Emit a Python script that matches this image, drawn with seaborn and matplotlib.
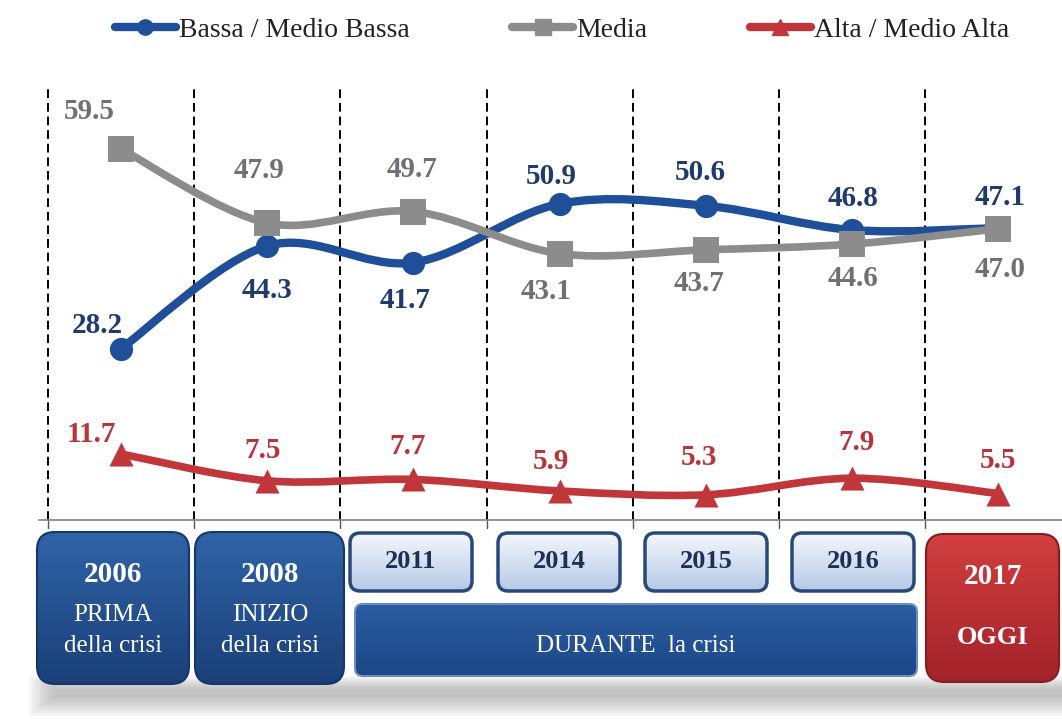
import numpy as np
import pandas as pd
import seaborn as sns
import matplotlib.pyplot as plt
from matplotlib.path import Path
from matplotlib.patches import PathPatch, FancyBboxPatch, Rectangle
from matplotlib.lines import Line2D
from matplotlib.colors import to_rgb

# data
years = ["2006", "2008", "2011", "2014", "2015", "2016", "2017"]
bassa = [28.2, 44.3, 41.7, 50.9, 50.6, 46.8, 47.1]
media = [59.5, 47.9, 49.7, 43.1, 43.7, 44.6, 47.0]
alta = [11.7, 7.5, 7.7, 5.9, 5.3, 7.9, 5.5]
series_names = ["Bassa / Medio Bassa", "Media", "Alta / Medio Alta"]
phase_titles = ["PRIMA", "INIZIO"]
phase_labels = ["della crisi", "DURANTE  la crisi", "OGGI"]

# label offsets in points (dx, dy), one per year
off_bassa = [(-17, 17), (0, -32), (-6, -27), (-6, 20), (-4, 24), (1, 23), (1, 22)]
off_media = [(-23, 27), (-6, 38), (-1, 30), (-10, -27), (-5, -24), (1, -25), (1, -29)]
off_alta = [(-21, 14), (-3, 22), (-4, 24), (-6, 21), (-5, 27), (3, 26), (0, 24)]

colors = {"Bassa / Medio Bassa": "#1f4f98", "Media": "#8c8c8c", "Alta / Medio Alta": "#c0363a"}
label_colors = {"Bassa / Medio Bassa": "#1f3a6c", "Media": "#716f74", "Alta / Medio Alta": "#b8343a"}
markers = {"Bassa / Medio Bassa": "o", "Media": "s", "Alta / Medio Alta": "^"}
msizes = {"Bassa / Medio Bassa": 280, "Media": 330, "Alta / Medio Alta": 300}
lwidths = {"Bassa / Medio Bassa": 6.0, "Media": 5.5, "Alta / Medio Alta": 5.5}

sns.set_theme(style="white")
plt.rcParams['font.family'] = ['Liberation Serif', 'DejaVu Serif']


def smooth_path(xs, ys):
    # excel-like smoothed line as cubic bezier segments
    pts = np.column_stack([xs, ys]).astype(float)
    n = len(pts)
    verts = [pts[0]]
    codes = [Path.MOVETO]
    for i in range(n - 1):
        p0 = pts[max(i - 1, 0)]
        p1 = pts[i]
        p2 = pts[i + 1]
        p3 = pts[min(i + 2, n - 1)]
        verts += [p1 + (p2 - p0) / 6, p2 - (p3 - p1) / 6, p2]
        codes += [Path.CURVE4] * 3
    return Path(verts, codes)


def gradient_box(ax, x0, y0, w, h, top, bottom, edge, lw=1.5, r=14):
    patch = FancyBboxPatch((x0, y0), w, h, boxstyle="round,pad=0,rounding_size=%d" % r,
                           facecolor="none", edgecolor=edge, linewidth=lw, zorder=3)
    ax.add_patch(patch)
    t = np.array(to_rgb(top))
    b = np.array(to_rgb(bottom))
    k = np.linspace(0, 1, 64)[:, None]
    grad = (t * (1 - k) + b * k)[:, None, :]
    im = ax.imshow(grad, extent=(x0, x0 + w, y0 + h, y0), aspect="auto", zorder=2,
                   interpolation="bilinear")
    im.set_clip_path(patch)
    return patch


fig = plt.figure(figsize=(10.62, 7.22), dpi=100)
fig.patch.set_facecolor("white")
ax = fig.add_axes([0, 0, 1, 1])
ax.set_xlim(-0.8276, 6.436)
ax.set_ylim(-30.31, 82.85)
ax.axis("off")

x = np.arange(len(years))

# dashed separators and base line
for sx in np.arange(-0.5, len(years) - 1, 1.0):
    ax.plot([sx, sx], [1.35, 69.5], color="black", lw=1.4, ls=(0, (4.5, 2.5)), zorder=1)
    ax.plot([sx, sx], [0.1, 1.35], color="#555555", lw=1.0, zorder=1)
ax.plot([-0.56, 6.44], [1.35, 1.35], color="#8a8a8a", lw=1.3, zorder=1)

rows = []
for name, vals in zip(series_names, [bassa, media, alta]):
    for i, v in enumerate(vals):
        rows.append({"x": i, "value": v, "serie": name})
df = pd.DataFrame(rows)

for name, offs in zip(series_names, [off_bassa, off_media, off_alta]):
    sub = df[df["serie"] == name]
    ax.add_patch(PathPatch(smooth_path(sub["x"], sub["value"]), facecolor="none",
                           edgecolor=colors[name], lw=lwidths[name], capstyle="round",
                           joinstyle="round", zorder=3))
    sns.scatterplot(data=sub, x="x", y="value", color=colors[name], marker=markers[name],
                    s=msizes[name], linewidth=0, legend=False, ax=ax, zorder=4)
    for (xi, v), (dx, dy) in zip(zip(sub["x"], sub["value"]), offs):
        ax.annotate("%.1f" % v, (xi, v), xytext=(dx, dy), textcoords="offset points",
                    ha="center", va="center", fontsize=21, fontweight="bold",
                    color=label_colors[name], zorder=5)
ax.set_xlim(-0.8276, 6.436)
ax.set_ylim(-30.31, 82.85)

# legend
handles = [Line2D([], [], color=colors[n], lw=6, marker=markers[n], markersize=11)
           for n in series_names]
fig.legend(handles, series_names, loc="center", bbox_to_anchor=(0.529, 0.958), ncol=3,
           frameon=False, fontsize=20, handlelength=2.2, handletextpad=0.1,
           columnspacing=3.7, labelcolor="#222222")

# bottom timeline boxes, pixel coordinates
bx = fig.add_axes([0, 0, 1, 1])
bx.patch.set_alpha(0)
bx.axis("off")

# soft shadow
for k in range(14):
    bx.add_patch(Rectangle((28 + k * 2, 676 + k), 1034 - k * 2, 40 - 2.4 * k,
                           facecolor="#8a8a8a", edgecolor="none", alpha=0.045, zorder=1))

dark_top, dark_bot, dark_edge = "#3063a6", "#1a4079", "#153766"
gradient_box(bx, 37, 532, 152, 152, dark_top, dark_bot, dark_edge, r=18)
gradient_box(bx, 195, 532, 149, 152, dark_top, dark_bot, dark_edge, r=18)
gradient_box(bx, 355, 604, 562, 72, "#2c5da1", "#1c4787", "#6c8cbd", r=8)
gradient_box(bx, 926, 534, 133, 148, "#d13f40", "#a3232a", "#861c20", r=18)

centers = [113, 270, 411, 559, 706, 853, 993]
for c, yr in zip(centers[2:6], years[2:6]):
    gradient_box(bx, c - 61, 533, 122, 58, "#f4f7fc", "#b5c9e6", "#27497a", lw=2.5, r=10)
    bx.text(c, 562, yr, ha="center", va="center", fontsize=19, fontweight="bold",
            color="#1f3058", zorder=5)

for c, yr, title in zip(centers[:2], years[:2], phase_titles):
    bx.text(c, 574, yr, ha="center", va="center", fontsize=21, fontweight="bold",
            color="white", zorder=5)
    bx.text(c, 615, title, ha="center", va="center", fontsize=18, color="white", zorder=5)
    bx.text(c, 646, phase_labels[0], ha="center", va="center", fontsize=18,
            color="white", zorder=5)
bx.text(636, 646, phase_labels[1], ha="center", va="center", fontsize=18,
        color="white", zorder=5)
bx.text(centers[6], 577, years[6], ha="center", va="center", fontsize=21,
        fontweight="bold", color="white", zorder=5)
bx.text(centers[6], 637, phase_labels[2], ha="center", va="center", fontsize=19,
        fontweight="bold", color="white", zorder=5)

bx.set_xlim(0, 1062)
bx.set_ylim(722, 0)

fig.savefig("out.png", dpi=100)
